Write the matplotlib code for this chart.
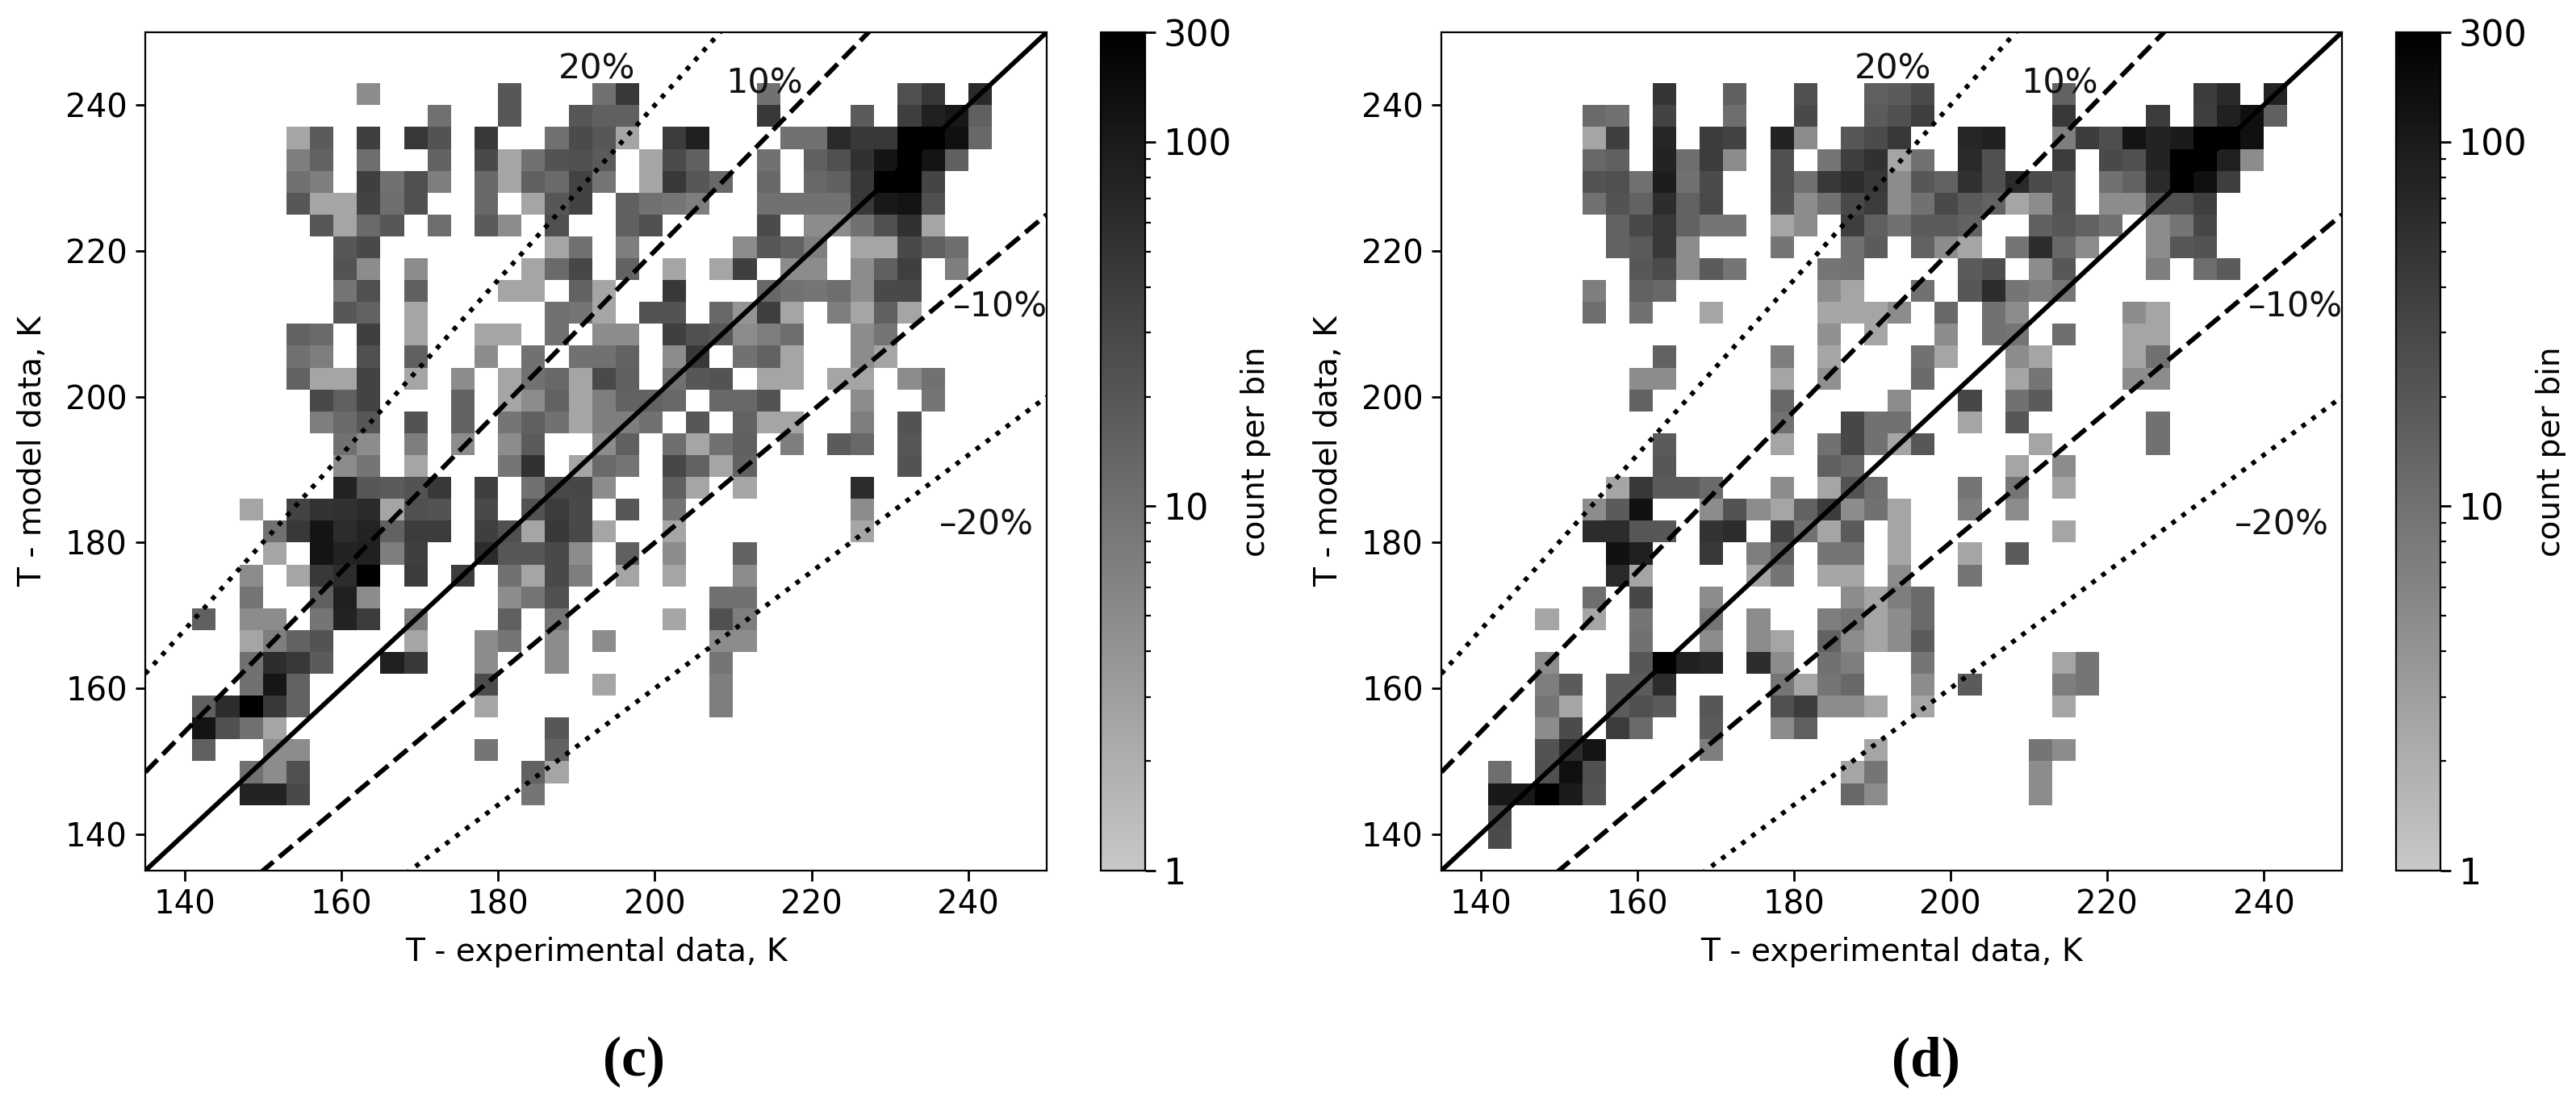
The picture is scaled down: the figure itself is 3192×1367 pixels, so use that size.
import numpy as np
import matplotlib
matplotlib.use('Agg')
import matplotlib.pyplot as plt
from matplotlib.colors import LinearSegmentedColormap, LogNorm

W, H = 3192, 1367

# bin edges, K
x_edges = list(range(135, 253, 3))
y_edges = list(range(135, 253, 3))

# counts per bin, read from the grey levels: {lower y edge: {lower x edge: count}}
counts_c = {
    240: {162: 5, 180: 20, 192: 10, 195: 45, 213: 10, 231: 24, 234: 45, 240: 65},
    237: {171: 10, 180: 20, 189: 20, 192: 16, 195: 16, 213: 45, 225: 18, 231: 38, 234: 85, 237: 105, 240: 16},
    234: {153: 2.5, 156: 18, 162: 38, 168: 45, 171: 22, 177: 45, 186: 10, 189: 27, 192: 20, 195: 2.5, 201: 41, 204: 85,
          216: 10, 219: 10, 222: 65, 225: 45, 228: 45, 231: 200, 234: 200, 237: 131, 240: 13},
    231: {153: 7, 156: 15, 162: 11, 171: 15, 177: 29, 180: 2.5, 183: 10, 186: 22, 189: 24, 192: 18, 198: 2.5, 201: 27,
          204: 16, 213: 10, 219: 16, 222: 24, 225: 55, 228: 118, 231: 200, 234: 118, 237: 16},
    228: {153: 10, 156: 7, 162: 38, 165: 10, 168: 24, 171: 7, 177: 13, 180: 2.5, 183: 16, 186: 12, 189: 34, 192: 9,
          198: 2.5, 201: 45, 204: 20, 207: 13, 213: 13, 219: 13, 222: 16, 225: 45, 228: 200, 231: 200, 234: 32},
    225: {153: 20, 156: 2.5, 159: 2.5, 162: 34, 165: 11, 168: 24, 177: 13, 183: 2.5, 186: 20, 189: 34, 195: 16, 198: 10,
          201: 9, 204: 7, 213: 10, 216: 10, 219: 10, 222: 10, 225: 45, 228: 105, 231: 118, 234: 24},
    222: {156: 20, 159: 2.5, 162: 12, 165: 20, 171: 11, 177: 18, 180: 5, 186: 24, 195: 16, 198: 24, 213: 27, 219: 5,
          222: 5, 225: 10, 228: 24, 231: 55, 234: 2.5},
    219: {159: 20, 162: 29, 186: 2.5, 189: 10, 195: 7, 210: 5, 213: 20, 216: 15, 219: 7, 225: 2.5, 228: 2.5, 231: 29,
          234: 16, 237: 11},
    216: {159: 22, 162: 5, 168: 5, 183: 2.5, 186: 12, 189: 31, 195: 15, 201: 2.5, 207: 2.5, 210: 38, 216: 5, 219: 5,
          225: 5, 228: 16, 231: 38, 237: 7},
    213: {159: 9, 162: 24, 168: 16, 180: 2.5, 183: 2.5, 189: 15, 192: 2.5, 201: 45, 213: 13, 216: 10, 219: 9, 222: 11,
          225: 5, 228: 29, 231: 29},
    210: {159: 20, 162: 15, 168: 2.5, 186: 10, 189: 9, 192: 2.5, 198: 22, 201: 22, 207: 13, 210: 4, 213: 38, 216: 2.5,
          222: 7, 225: 2.5, 228: 16, 231: 2.5},
    207: {153: 15, 156: 12, 162: 38, 168: 2.5, 177: 2.5, 180: 2.5, 186: 10, 192: 5, 195: 5, 201: 38, 204: 24, 207: 20,
          210: 5, 213: 7, 216: 11, 225: 5, 228: 9},
    204: {153: 10, 156: 7, 162: 24, 168: 16, 177: 5, 183: 10, 189: 10, 192: 10, 195: 15, 201: 5, 204: 45, 210: 10,
          213: 15, 216: 2.5, 225: 5, 228: 2.5},
    201: {153: 15, 156: 2.5, 159: 2.5, 162: 34, 168: 2.5, 174: 5, 180: 2.5, 183: 10, 186: 13, 189: 2.5, 192: 29, 195: 16,
          201: 10, 204: 20, 207: 22, 213: 2.5, 216: 2.5, 222: 2.5, 225: 2.5, 231: 5, 234: 10},
    198: {156: 29, 159: 16, 162: 34, 174: 15, 180: 2.5, 183: 5, 186: 15, 189: 2.5, 192: 7, 195: 15, 198: 15, 201: 13,
          207: 13, 210: 13, 213: 22, 225: 5, 234: 9},
    195: {156: 7, 159: 12, 162: 20, 168: 22, 174: 15, 180: 9, 183: 16, 186: 10, 189: 2.5, 192: 7, 195: 7, 198: 10,
          204: 20, 210: 15, 213: 2.5, 216: 2.5, 225: 7, 231: 22},
    192: {159: 10, 162: 5, 168: 7, 174: 5, 180: 5, 183: 18, 192: 5, 195: 16, 201: 11, 204: 2.5, 207: 10, 210: 16,
          216: 7, 222: 18, 225: 13, 231: 20},
    189: {159: 5, 162: 9, 168: 2.5, 180: 9, 183: 55, 189: 2.5, 192: 12, 195: 9, 201: 31, 204: 15, 207: 2.5, 210: 15,
          231: 22},
    186: {159: 79, 162: 20, 165: 18, 168: 22, 171: 45, 177: 38, 183: 10, 186: 29, 189: 31, 192: 5, 201: 16, 204: 2.5,
          210: 2.5, 225: 62},
    183: {147: 2.5, 153: 34, 156: 52, 159: 55, 162: 65, 165: 2.5, 168: 24, 171: 22, 177: 29, 183: 22, 186: 41, 189: 29,
          195: 20, 201: 9, 225: 5},
    180: {150: 10, 153: 45, 156: 118, 159: 62, 162: 79, 165: 15, 168: 41, 171: 41, 177: 38, 180: 24, 183: 2.5,
          186: 45, 189: 29, 192: 2.5, 201: 2.5, 225: 2.5},
    177: {150: 2.5, 156: 118, 159: 79, 162: 85, 165: 7, 168: 38, 177: 62, 180: 20, 183: 20, 186: 29, 189: 5,
          195: 16, 201: 5, 210: 15},
    174: {147: 5, 153: 2.5, 156: 45, 159: 62, 162: 200, 168: 41, 174: 41, 180: 10, 183: 2.5, 186: 29, 189: 7, 195: 2.5,
          201: 2.5, 210: 5},
    171: {147: 9, 156: 16, 159: 85, 162: 5, 180: 5, 183: 9, 186: 24, 207: 10, 210: 10},
    168: {141: 16, 147: 5, 150: 5, 156: 9, 159: 79, 162: 41, 168: 7, 180: 16, 186: 9, 201: 2.5, 207: 24, 210: 7},
    165: {147: 2.5, 150: 7, 153: 15, 156: 22, 168: 2.5, 177: 5, 180: 9, 186: 5, 192: 5, 207: 5, 210: 5},
    162: {147: 10, 150: 59, 153: 45, 156: 18, 165: 85, 168: 45, 177: 5, 186: 5, 207: 9},
    159: {147: 10, 150: 112, 153: 15, 177: 27, 192: 2.5, 207: 7},
    156: {141: 16, 144: 62, 147: 200, 150: 45, 153: 15, 177: 2.5, 207: 7},
    153: {141: 118, 144: 24, 147: 10, 150: 2.5, 186: 20},
    150: {141: 16, 150: 5, 153: 5, 177: 9, 186: 15},
    147: {147: 10, 150: 5, 153: 24, 183: 15, 186: 2.5},
    144: {147: 79, 150: 79, 153: 29, 183: 9},
}

counts_d = {
    240: {162: 48, 171: 16, 180: 24, 189: 16, 192: 18, 195: 27, 213: 15, 231: 41, 234: 65, 240: 79},
    237: {153: 12, 156: 10, 162: 34, 171: 11, 180: 29, 189: 18, 192: 24, 195: 38, 213: 45, 225: 41, 231: 38, 234: 85,
          237: 131, 240: 16},
    234: {153: 2.5, 156: 38, 162: 72, 168: 41, 171: 34, 177: 79, 180: 5, 186: 20, 189: 27, 192: 45, 201: 72, 204: 85,
          213: 7, 216: 41, 219: 25, 222: 118, 225: 79, 228: 98, 231: 200, 234: 200, 237: 131},
    231: {153: 13, 156: 16, 162: 79, 165: 11, 168: 41, 171: 5, 177: 24, 183: 9, 186: 38, 189: 55, 192: 2.5, 195: 10,
          201: 65, 204: 24, 213: 41, 219: 29, 222: 24, 225: 79, 228: 200, 231: 200, 234: 85, 237: 5},
    228: {153: 22, 156: 24, 159: 10, 162: 92, 165: 10, 168: 27, 177: 24, 180: 10, 183: 45, 186: 59, 189: 45, 192: 5,
          195: 20, 198: 15, 201: 55, 204: 24, 207: 65, 210: 27, 213: 22, 219: 10, 222: 15, 225: 65, 228: 200, 231: 131,
          234: 38},
    225: {153: 10, 156: 22, 159: 15, 162: 59, 165: 15, 168: 29, 177: 22, 180: 5, 183: 10, 186: 29, 189: 41, 192: 5,
          195: 10, 198: 29, 201: 18, 204: 15, 207: 2.5, 210: 5, 213: 22, 219: 5, 222: 5, 225: 24, 228: 24, 231: 38},
    222: {156: 15, 159: 29, 162: 45, 165: 15, 168: 9, 171: 9, 177: 2.5, 180: 5, 186: 38, 189: 16, 192: 10, 195: 18,
          198: 18, 201: 15, 210: 16, 213: 20, 216: 15, 219: 10, 225: 5, 228: 9, 231: 31},
    219: {156: 15, 159: 18, 162: 45, 165: 5, 177: 9, 186: 10, 189: 18, 195: 15, 198: 5, 201: 2.5, 207: 9, 210: 59,
          213: 13, 216: 5, 225: 5, 228: 20, 231: 22},
    216: {159: 20, 162: 27, 165: 5, 168: 18, 171: 9, 183: 9, 186: 10, 201: 18, 204: 25, 210: 5, 213: 20, 225: 7,
          231: 11, 234: 18},
    213: {153: 7, 159: 15, 162: 13, 183: 5, 186: 2.5, 195: 10, 201: 20, 204: 62, 207: 9, 210: 7, 213: 9},
    210: {153: 11, 159: 10, 168: 2.5, 183: 2.5, 186: 2.5, 189: 2.5, 192: 5, 198: 13, 204: 10, 207: 5, 222: 5, 225: 2.5},
    207: {183: 4.5, 189: 2.5, 198: 5, 204: 10, 207: 9, 213: 11, 222: 2.5, 225: 2.5},
    204: {162: 15, 177: 7, 183: 2.5, 195: 10, 198: 2.5, 207: 5, 210: 2.5, 222: 2.5, 225: 10},
    201: {159: 5, 162: 5, 177: 2.5, 183: 4.5, 195: 12, 207: 2.5, 210: 9, 222: 5, 225: 5},
    198: {159: 15, 177: 13, 192: 5, 201: 31, 207: 10, 210: 18},
    195: {177: 10, 186: 31, 189: 10, 192: 10, 201: 2.5, 207: 20, 225: 10},
    192: {162: 18, 177: 2.5, 183: 10, 186: 31, 189: 10, 192: 2.5, 195: 20, 210: 2.5, 225: 10},
    189: {162: 20, 183: 16, 186: 12, 207: 2.5, 213: 5},
    186: {156: 2.5, 159: 45, 162: 18, 165: 18, 168: 12, 177: 5, 183: 2.5, 186: 22, 189: 11, 201: 9, 207: 9, 213: 2.5},
    183: {153: 5, 156: 18, 159: 131, 168: 5, 171: 22, 174: 5, 177: 2.5, 180: 15, 183: 41, 186: 5, 189: 10, 192: 2.5,
          201: 7, 207: 5},
    180: {153: 62, 156: 62, 159: 20, 162: 20, 168: 52, 171: 62, 177: 34, 180: 10, 183: 2.5, 186: 18, 192: 2.5, 213: 2.5},
    177: {156: 131, 159: 85, 168: 45, 174: 7, 177: 16, 183: 9, 186: 9, 192: 2.5, 201: 2.5, 207: 18},
    174: {156: 65, 159: 2.5, 174: 2.5, 177: 9, 183: 2.5, 186: 2.5, 192: 5, 201: 9},
    171: {153: 11, 159: 31, 168: 5, 186: 5, 189: 2.5, 192: 7, 195: 12},
    168: {147: 2.5, 153: 2.5, 159: 9, 168: 9, 174: 5, 183: 7, 186: 9, 189: 2.5, 192: 5, 195: 12},
    165: {159: 10, 168: 5, 174: 5, 177: 2.5, 183: 15, 186: 5, 189: 2.5, 192: 5, 195: 18},
    162: {147: 5, 159: 20, 162: 200, 165: 85, 168: 72, 174: 59, 177: 5, 183: 10, 186: 7, 195: 9, 213: 2.5, 216: 9},
    159: {147: 7, 150: 18, 156: 18, 159: 18, 162: 62, 177: 9, 180: 2.5, 183: 9, 186: 13, 195: 5, 201: 18, 213: 7,
          216: 9},
    156: {147: 9, 150: 2.5, 156: 18, 159: 24, 162: 18, 168: 20, 177: 24, 180: 41, 183: 5, 186: 5, 189: 2.5, 195: 2.5,
          213: 2.5},
    153: {147: 5, 150: 27, 156: 41, 159: 12, 168: 18, 177: 5, 180: 16},
    150: {147: 22, 150: 62, 153: 118, 168: 7, 189: 2.5, 210: 9, 213: 5},
    147: {141: 11, 147: 24, 150: 131, 153: 24, 186: 2.5, 189: 9, 210: 5},
    144: {141: 105, 144: 105, 147: 200, 150: 98, 153: 22, 186: 13, 189: 5, 210: 5},
    141: {141: 29},
    138: {141: 27},
}

ticks = [140, 160, 180, 200, 220, 240]
# the top of the colour bar sits at 200 on its log scale but is labelled 300
cbar_ticks = [1, 10, 100, 200]
cbar_labels = ['1', '10', '100', '300']
cbar_minor = [2, 3, 4, 5, 6, 7, 8, 9, 20, 30, 40, 50, 60, 70, 80, 90]
line_factors = [1.0, 1.1, 0.9, 1.2, 0.8]
line_styles = ['-', '--', '--', ':', ':']
labels = ['20%', '10%', '\u201310%', '\u201320%']
label_x = [187.7, 209.0, 238.0, 236.3]
label_y = [245.0, 243.0, 212.3, 182.4]

cmap = LinearSegmentedColormap.from_list('g', ['#c8c8c8', '#000000'])
norm = LogNorm(vmin=1, vmax=200)

plt.rcParams['font.family'] = 'DejaVu Sans'
plt.rcParams['font.size'] = 14.1


def make_axes(left, right, top, bottom):
    return [left / W, 1 - bottom / H, (right - left) / W, (bottom - top) / H]


def to_grid(cells):
    grid = np.zeros((len(y_edges) - 1, len(x_edges) - 1))
    for y, row in cells.items():
        for x, n in row.items():
            grid[y_edges.index(y), x_edges.index(x)] = n
    return np.ma.masked_equal(grid, 0)


def draw_panel(cells, box, cbox, tag, tag_x):
    ax = fig.add_axes(make_axes(*box))
    mesh = ax.pcolormesh(x_edges, y_edges, to_grid(cells), cmap=cmap, norm=norm)
    xs = np.array([135, 250])
    for f, ls in zip(line_factors, line_styles):
        ax.plot(xs, f * xs, color='black', ls=ls, lw=2.1)
    for t, tx, ty in zip(labels, label_x, label_y):
        ax.text(tx, ty, t, fontsize=15.5, va='center', ha='left', color='#111111')
    ax.set_xlim(135, 250)
    ax.set_ylim(135, 250)
    ax.set_xticks(ticks)
    ax.set_yticks(ticks)
    ax.tick_params(length=4.5, width=1.0, labelsize=14.5)
    ax.set_xlabel('T - experimental data, K', labelpad=7)
    ax.set_ylabel('T - model data, K', labelpad=8)

    cax = fig.add_axes(make_axes(*cbox))
    cb = fig.colorbar(mesh, cax=cax)
    cb.set_ticks(cbar_ticks, labels=cbar_labels)
    cb.ax.yaxis.set_ticks(cbar_minor, minor=True)
    cb.ax.yaxis.set_ticklabels([], minor=True)
    cb.ax.tick_params(which='major', length=4.5, width=1.0, labelsize=16)
    cb.ax.tick_params(which='minor', length=2.6, width=0.8)
    cb.set_label('count per bin', labelpad=4)

    fig.text(tag_x / W, 1 - 1316 / H, tag, family='Liberation Serif', weight='bold',
             fontsize=25, ha='center', va='center')


fig = plt.figure(figsize=(W / 200, H / 200), dpi=200)
draw_panel(counts_c, (180, 1297, 40, 1079), (1364, 1419, 40, 1079), '(c)', 786)
draw_panel(counts_d, (1786, 2902, 40, 1079), (2969, 3024, 40, 1079), '(d)', 2386)
fig.savefig('out.png', dpi=200)
